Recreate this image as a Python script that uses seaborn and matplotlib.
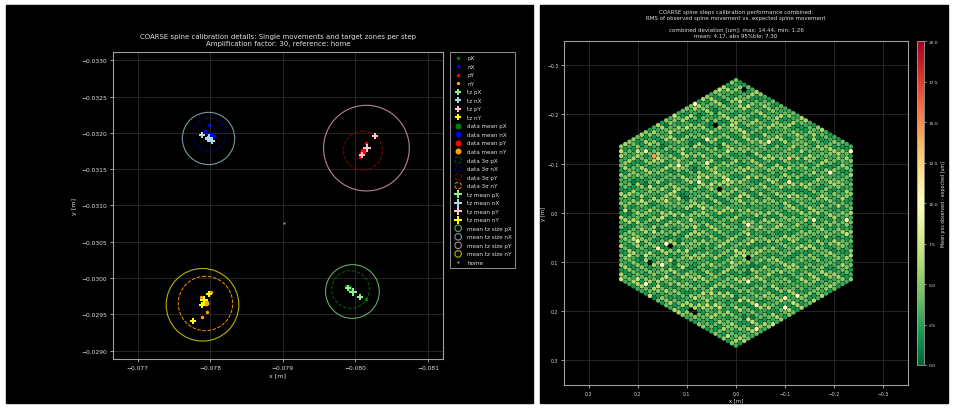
import numpy as np
import pandas as pd
import matplotlib
matplotlib.use("Agg")
import matplotlib.pyplot as plt
import seaborn as sns
from matplotlib.patches import Circle, Rectangle
from matplotlib.ticker import FuncFormatter
from matplotlib.colors import Normalize
from matplotlib.cm import ScalarMappable

# ---------------- left panel: single movements per step ----------------
steps = ['pX', 'nX', 'pY', 'nY']
col_data = ['green', 'blue', 'red', 'orange']
col_tz = ['lightgreen', 'lightblue', 'pink', 'yellow']
col_sigma = ['darkgreen', 'darkblue', 'darkred', 'darkorange']

# single movements (data points)
pX_x = [-0.079868, -0.079906, -0.079939, -0.080058, -0.080139]
pX_y = [-0.029896, -0.029873, -0.029827, -0.029744, -0.029712]
nX_x = [-0.077989, -0.077923, -0.078046, -0.077975, -0.078013]
nX_y = [-0.032109, -0.032026, -0.031962, -0.031990, -0.031944]
pY_x = [-0.080139, -0.080101, -0.080082, -0.080058]
pY_y = [-0.031857, -0.031756, -0.031719, -0.031673]
nY_x = [-0.077880, -0.077989, -0.078013, -0.077927, -0.077956, -0.077894]
nY_y = [-0.029735, -0.029795, -0.029804, -0.029689, -0.029528, -0.029469]

# target zones
tz_pX_x = [-0.079896, -0.079963, -0.080058]
tz_pX_y = [-0.029859, -0.029813, -0.029735]
tz_nX_x = [-0.077889, -0.077965, -0.078023]
tz_nX_y = [-0.031971, -0.031912, -0.031884]
tz_pY_x = [-0.080272, -0.080153, -0.080087]
tz_pY_y = [-0.031962, -0.031792, -0.031700]
tz_nY_x = [-0.077980, -0.077918, -0.077894, -0.077766]
tz_nY_y = [-0.029781, -0.029698, -0.029634, -0.029414]

# means
mean_x = [-0.079915, -0.077994, -0.080101, -0.077942]
mean_y = [-0.029859, -0.031976, -0.031756, -0.029657]
tz_mean_x = [-0.079963, -0.077985, -0.080153, -0.077918]
tz_mean_y = [-0.029813, -0.031925, -0.031792, -0.029698]

# circles: 3 sigma of data and mean target zone size
sigma_cx = [-0.079932, -0.077992, -0.080103, -0.077935]
sigma_cy = [-0.029843, -0.031976, -0.031756, -0.029650]
sigma_r = [0.000259, 0.000226, 0.000268, 0.000375]
tzsize_cx = [-0.079958, -0.077977, -0.080151, -0.077894]
tzsize_cy = [-0.029815, -0.031923, -0.031790, -0.029632]
tzsize_r = [0.000370, 0.000360, 0.000590, 0.000500]

home_x = [-0.079021]
home_y = [-0.030754]

# ---------------- right panel: combined performance ----------------
n_rings = 28
pitch = 0.00963
# per spine deviation level (digit = um), read row by row
dev_rows = [
    "34253462435234634253425634235324635243365243425372",
    "43263542342534623452364253426345233642532436524335",
    "53426342453264352436423526342534625342365243632543",
    "26354234653425364235436253425263424536234253462534",
    "35462343524632453426245364235436245324635423463254",
    "42356234365324634253364235246325436243534362543246",
    "62435346243524362453423635243653426345233465234264",
    "24365423534625342634352463243542635423625342463253",
    "36243542632543642354463253426234526343542634523463",
    "43526342365423634253326435246345362435243425362436",
    "25346352434263542635342563423654234637243526342354",
    "34625342736425342634523642536342653423542634352462",
    "52436425343625342642534263542436253462345263426353",
    "23546325424352634253624352436543625342632543624352",
    "46235342635243625432634253462352436254363425342635",
    "34263542534625342637245342634523642536243543625342",
    "63425346232543624353462534263542634253624532463425",
    "25342634543625342635243624532643526342536243524634",
    "42635243625342634253624352634253462543624325346235",
    "35246342563425362435243625342634253426354236245342",
    "54237245316352443625172634253724352463514362734263",
    "26342574624352134253624372634253426354276245342635",
    "43625342635243675342634252431243562534763542632453",
    "32542634763542234252635243625372634253624352634256",
    "64253426352436254326342534763542634213624352463524",
    "25342675243624534263524362534263425762435263425364",
    "43526342536243526742534263542634253462534263542632",
    "36245372634153624352634253476354236245342635243624",
    "52634253462574263542634213624352637253624352463524",
    "24352634753624352631253426354236745342635243625342",
    "63425362437263425364253126352436254376342534263542",
    "34263542674253624352463524312534263725362435263425",
    "45342635243674534263524362514263425362435763425362",
    "26354263475362435263125342635243674534263524362534",
    "53426342536243576342534263542134253462534763542632",
    "34625372635243625342134252436243562574263542632453",
    "42536243526372534263542634213624352634753426354236",
    "25342634253674352634213426354236245372635243625342",
    "64253426354236275342635213624534263524367534263425",
    "35243675342634253624312634253426354763425362435263",
    "43625342635273624534263514362534263425367435263425",
    "26342574263542634213462534263542672453426342536243",
    "52634253674352634253426314236245342675243625342634",
    "34253624352674253426354263125362435263475342635243",
    "45263425362475263425364213426352436254376342534263",
    "23542634253674352463524312534263425762435263425364",
    "64352634253476354236245312635243624574263524362534",
    "36245342635213625342674252436243562534263572632453",
    "42536243576342534263512634253624352674253426354236",
]
# spines that stand out (x, y, deviation um)
bright_x = [0.0803, 0.0626, -0.0626, 0.1810, 0.1714, 0.1136, 0.0551, 0.0714,
            -0.1041, -0.1122, -0.1878, -0.0211, -0.1626, 0.1966, 0.1626,
            0.1381, 0.1544, 0.1857, -0.0293, -0.0973, -0.1299, -0.1041,
            -0.0469, -0.0463, 0.0136, -0.2299, -0.2299]
bright_y = [-0.2173, -0.1495, -0.1454, -0.1298, -0.1163, -0.0925, -0.0980,
            -0.0600, -0.1115, -0.0600, -0.0844, 0.0214, 0.0153, 0.0607,
            0.0708, 0.0654, 0.1041, 0.1420, 0.1407, 0.1969, 0.1685, 0.1739,
            0.1875, 0.2363, -0.0641, -0.1278, 0.0153]
bright_v = [9.5, 9.5, 9.5, 9.0, 14.4, 9.5, 9.0, 9.5, 13.0, 11.0, 10.0, 10.0,
            9.0, 8.5, 9.0, 10.0, 10.0, 10.0, 9.5, 10.0, 10.0, 9.5, 9.5, 9.5,
            8.5, 10.0, 9.0]
# spines without data
missing_x = [0.0422, -0.0190, 0.0299, 0.1299, -0.0293, 0.1789, 0.0932, 0.0864]
missing_y = [-0.1820, -0.2458, -0.0451, 0.0702, 0.0925, 0.0986, 0.1956, 0.2064]

# ---------------- style ----------------
sns.set_theme(style="dark", rc={
    'figure.facecolor': 'white',
    'axes.facecolor': 'black',
    'axes.edgecolor': '#a0a0a0',
    'axes.linewidth': 0.8,
    'axes.grid': True,
    'grid.color': '#2c2c2c',
    'grid.linewidth': 0.6,
    'text.color': '#e0e0e0',
    'axes.labelcolor': '#e0e0e0',
    'xtick.color': '#e0e0e0',
    'ytick.color': '#e0e0e0',
    'xtick.bottom': True,
    'ytick.left': True,
    'xtick.major.size': 2,
    'ytick.major.size': 2,
    'xtick.major.width': 0.5,
    'ytick.major.width': 0.5,
})
plt.rcParams['font.family'] = ['DejaVu Sans']

fig = plt.figure(figsize=(9.54, 4.10), dpi=100)
W, H = 954.0, 410.0
fig.add_artist(Rectangle((6 / W, 1 - 404 / H), 527 / W, 398 / H,
                         transform=fig.transFigure, color='black', zorder=-10))
fig.add_artist(Rectangle((540 / W, 1 - 404 / H), 408 / W, 398 / H,
                         transform=fig.transFigure, color='black', zorder=-10))

minus = lambda s: s.replace('-', '\u2212')

# ---- left ----
ax1 = fig.add_axes([113 / W, 1 - 360 / H, 330 / W, 306.7 / H])
pts_x = [pX_x, nX_x, pY_x, nY_x]
pts_y = [pX_y, nX_y, pY_y, nY_y]
tz_x = [tz_pX_x, tz_nX_x, tz_pY_x, tz_nY_x]
tz_y = [tz_pX_y, tz_nX_y, tz_pY_y, tz_nY_y]

h_pts, h_tz, h_mean, h_sig, h_tzm, h_tzs = [], [], [], [], [], []
for i, st in enumerate(steps):
    sns.scatterplot(x=pts_x[i], y=pts_y[i], color=col_data[i], s=6,
                    linewidth=0, ax=ax1, zorder=3)
    h_pts.append(ax1.collections[-1])
    h_pts[-1].set_label(st)
    sns.scatterplot(x=tz_x[i], y=tz_y[i], color=col_tz[i], s=16, marker='P',
                    linewidth=0, ax=ax1, zorder=4)
    h_tz.append(ax1.collections[-1])
    h_tz[-1].set_label('tz ' + st)
for i, st in enumerate(steps):
    sns.scatterplot(x=[mean_x[i]], y=[mean_y[i]], color=col_data[i], s=18,
                    linewidth=0, ax=ax1, zorder=3)
    h_mean.append(ax1.collections[-1])
    h_mean[-1].set_label('data mean ' + st)
    sns.scatterplot(x=[tz_mean_x[i]], y=[tz_mean_y[i]], color=col_tz[i], s=26,
                    marker='P', linewidth=0, ax=ax1, zorder=5)
    h_tzm.append(ax1.collections[-1])
    h_tzm[-1].set_label('tz mean ' + st)
    ax1.add_patch(Circle((sigma_cx[i], sigma_cy[i]), sigma_r[i], fill=False,
                         ec=col_sigma[i], ls='--', lw=0.7))
    ax1.add_patch(Circle((tzsize_cx[i], tzsize_cy[i]), tzsize_r[i], fill=False,
                         ec=col_tz[i], lw=0.8, alpha=0.7))
    h_sig.append(ax1.scatter([np.nan], [np.nan], s=22, facecolors='none',
                             edgecolors=col_sigma[i], linestyles='--',
                             linewidths=0.7, label='data 3\u03c3 ' + st))
    h_tzs.append(ax1.scatter([np.nan], [np.nan], s=22, facecolors='none',
                             edgecolors=col_tz[i], linewidths=0.8, alpha=0.7,
                             label='mean tz size ' + st))
sns.scatterplot(x=home_x, y=home_y, color='grey', s=3, linewidth=0, ax=ax1)
h_home = ax1.collections[-1]
h_home.set_label('home')

ax1.set_xlim(-0.076662, -0.081205)
ax1.set_ylim(-0.028885, -0.03311)
ax1.set_xticks([-0.077, -0.078, -0.079, -0.080, -0.081])
ax1.set_yticks(np.arange(-0.0330, -0.02899, 0.0005))
ax1.xaxis.set_major_formatter(FuncFormatter(lambda v, p: minus(f"{v:.3f}")))
ax1.yaxis.set_major_formatter(FuncFormatter(lambda v, p: minus(f"{v:.4f}")))
ax1.tick_params(labelsize=4.3, pad=2)
ax1.set_xlabel('x [m]', fontsize=4.6, labelpad=2)
ax1.set_ylabel('y [m]', fontsize=4.6, labelpad=3)
ax1.set_title('COARSE spine calibration details: Single movements and target zones per step\n'
              'Amplification factor: 30, reference: home', fontsize=5.0, pad=5,
              color='#e0e0e0')
handles = h_pts + h_tz + h_mean + h_sig + h_tzm + h_tzs + [h_home]
leg = ax1.legend(handles=handles, loc='upper left', bbox_to_anchor=(1.02, 1.0),
                 fontsize=4.1, facecolor='black', edgecolor='#909090',
                 framealpha=1, labelcolor='#e0e0e0', labelspacing=0.62,
                 borderpad=0.5, handletextpad=0.6, borderaxespad=0,
                 fancybox=False, scatterpoints=1)
leg.get_frame().set_linewidth(0.7)

# ---- right ----
q_list, r_list = [], []
for q in range(-n_rings, n_rings + 1):
    for r in range(max(-n_rings, -n_rings - q), min(n_rings, n_rings - q) + 1):
        q_list.append(q)
        r_list.append(r)
q_arr = np.array(q_list)
r_arr = np.array(r_list)
sp_x = np.sqrt(3) / 2 * pitch * q_arr
sp_y = pitch * (r_arr + q_arr / 2.0)

levels = ''.join(dev_rows)
levels = (levels + '4' * len(sp_x))[:len(sp_x)]
dev = np.array([float(c) for c in levels])
for bx, by, bv in zip(bright_x, bright_y, bright_v):
    k = np.argmin((sp_x - bx) ** 2 + (sp_y - by) ** 2)
    dev[k] = bv
for mx, my in zip(missing_x, missing_y):
    k = np.argmin((sp_x - mx) ** 2 + (sp_y - my) ** 2)
    dev[k] = np.nan

df = pd.DataFrame({'x': sp_x, 'y': sp_y, 'dev': dev}).dropna()

ax2 = fig.add_axes([564 / W, 1 - 386 / H, 344 / W, 344.3 / H])
sns.scatterplot(data=df, x='x', y='y', hue='dev', palette='RdYlGn_r',
                hue_norm=(0, 20), s=11, linewidth=0, legend=False, ax=ax2)
ax2.set_xlim(0.35, -0.35)
ax2.set_ylim(0.35, -0.35)
ticks = [-0.3, -0.2, -0.1, 0.0, 0.1, 0.2, 0.3]
ax2.set_xticks(ticks)
ax2.set_yticks(ticks)
fmt1 = FuncFormatter(lambda v, p: minus(f"{v:.1f}") if abs(v) > 1e-9 else "0.0")
ax2.xaxis.set_major_formatter(fmt1)
ax2.yaxis.set_major_formatter(fmt1)
ax2.tick_params(labelsize=3.3, pad=2)
ax2.set_xlabel('x [m]', fontsize=3.8, labelpad=1)
ax2.set_ylabel('y [m]', fontsize=3.8, labelpad=1)
ax2.set_title('combined deviation [um]: max: 14.44, min: 1.26\n'
              'mean: 4.17, abs 95%tile: 7.30', fontsize=4.0, pad=3,
              color='#e0e0e0')
fig.text(736 / W, 1 - 15.3 / H,
         'COARSE spine steps calibration performance combined:\n'
         'RMS of observed spine movement vs. expected spine movement',
         ha='center', va='center', fontsize=4.0, color='#e0e0e0')

cax = fig.add_axes([916.7 / W, 1 - 366 / H, 7.6 / W, 323.7 / H])
sm = ScalarMappable(norm=Normalize(0, 20), cmap='RdYlGn_r')
cb = fig.colorbar(sm, cax=cax)
cb.set_ticks(np.arange(0, 20.01, 2.5))
cb.ax.yaxis.set_major_formatter(FuncFormatter(lambda v, p: f"{v:.1f}"))
cb.ax.tick_params(labelsize=3.2, pad=1.5, length=1.5)
cb.outline.set_edgecolor('#a0a0a0')
cb.outline.set_linewidth(0.6)
cb.set_label('Mean pos observed - expected [um]', fontsize=3.4, labelpad=2)
cax.grid(False)

fig.savefig('out.png', dpi=100, facecolor='white')
